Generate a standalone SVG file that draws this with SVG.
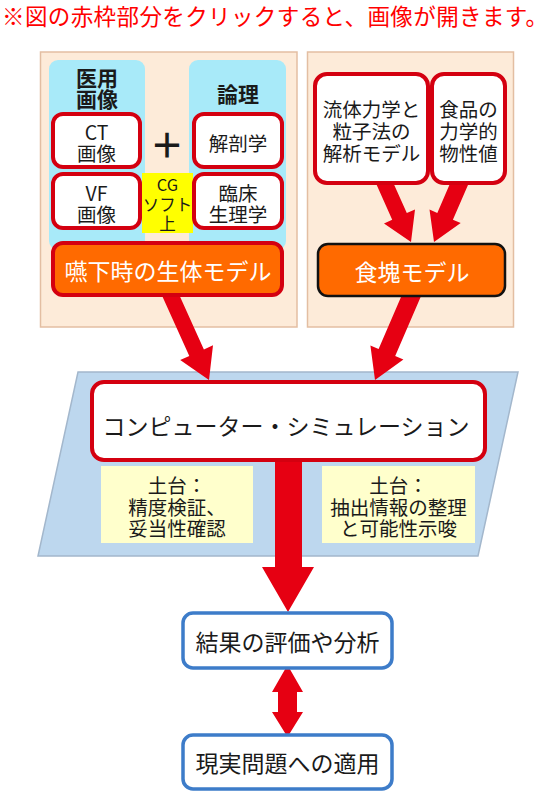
<svg xmlns="http://www.w3.org/2000/svg" width="552" height="792" viewBox="0 0 552 792">
<style>
text{font-family:"Noto Sans CJK JP","Noto Sans",sans-serif;text-anchor:middle;dominant-baseline:central;fill:#1a1a1a}
.panel{fill:#fdebd9;stroke:#e3bea2;stroke-width:1.5}
.cyan{fill:#a8eaf9}
.wbox{fill:#fff;stroke:#d40010;stroke-width:4}
.obox{fill:#ff6a00;stroke:#d40010;stroke-width:4}
.obox2{fill:#ff6a00;stroke:#111;stroke-width:2.5}
.bbox{fill:#fff;stroke:#3d7cc9;stroke-width:3.5}
.ybox{fill:#ffffcc}
.arr{fill:#e60012}
.h{font-weight:bold;font-size:21px}
.t19{font-size:19.5px}
.t23{font-size:23px}
.w{fill:#fff}
</style>
<text x="275" y="15" style="font-size:22.5px;fill:#ff0000" textLength="546">※図の赤枠部分をクリックすると、画像が開きます。</text>
<g id="background">
<rect class="panel" x="40.5" y="52" width="256.5" height="275"/>
<rect class="panel" x="307.5" y="52" width="206" height="275"/>
<rect class="cyan" x="49" y="60" width="96" height="190" rx="9"/>
<rect class="cyan" x="189" y="60" width="97" height="190" rx="9"/>
<polygon points="78,372 518,372 478,556 38,556" fill="#bdd7ee" stroke="#a3b7cc" stroke-width="1.5"/>
</g>
<g id="connectors">
<polygon class="arr" points="373.7,178.3 388.3,171.7 406.8,213.1 415.0,209.4 411,242 384.0,223.4 392.2,219.7"/>
<polygon class="arr" points="470.8,178.4 455.2,171.6 437.3,212.9 429.5,209.6 434,242 460.7,223.0 452.9,219.7"/>
<polygon class="arr" points="158.7,288.3 173.3,281.7 203.9,349.4 213.0,345.3 209,380 180.2,360.1 189.3,356.0"/>
<polygon class="arr" points="424.3,288.6 407.7,281.4 378.6,348.9 370.4,345.4 375,380 403.4,359.6 395.2,356.1"/>
<polygon class="arr" points="275,455 302,455 302,567 314,567 288,612 262,567 275,567"/>
<polygon class="arr" points="287.5,665 303,692 297,692 297,712 303,712 287.5,737 272,712 278,712 278,692 272,692"/>
</g>
<g id="label-iyou"><text class="h" x="97" y="77">医用<tspan x="97" dy="21">画像</tspan></text></g>
<g id="label-ronri"><text class="h" x="238" y="93">論理</text></g>
<g id="ct"><rect class="wbox" x="53" y="114" width="87" height="53" rx="10"/><text class="t19" x="96.5" y="131">CT<tspan x="96.5" dy="21">画像</tspan></text></g>
<g id="vf"><rect class="wbox" x="53" y="174" width="87" height="54" rx="10"/><text class="t19" x="96.5" y="192">VF<tspan x="96.5" dy="21">画像</tspan></text></g>
<g id="plus"><text x="167" y="143" style="font-size:34px;font-weight:bold">＋</text></g>
<g id="cg"><rect x="142" y="173" width="51" height="60" fill="#ffff00"/><text x="167.5" y="184" style="font-size:16.5px">CG<tspan x="167.5" dy="19.5">ソフト</tspan><tspan x="167.5" dy="19.5">上</tspan></text></g>
<g id="kaibou"><rect class="wbox" x="194" y="114" width="88" height="53" rx="10"/><text class="t19" x="238" y="142">解剖学</text></g>
<g id="rinsho"><rect class="wbox" x="194" y="174" width="88" height="54" rx="10"/><text class="t19" x="238" y="192">臨床<tspan x="238" dy="21">生理学</tspan></text></g>
<g id="engemodel"><rect class="obox" x="53" y="243" width="229" height="52" rx="10"/><text class="t23 w" x="168" y="270">嚥下時の生体モデル</text></g>
<g id="ryutai"><rect class="wbox" x="315" y="74" width="113" height="109" rx="12"/><text class="t19" x="371.5" y="108">流体力学と<tspan x="371.5" dy="22">粒子法の</tspan><tspan x="371.5" dy="22">解析モデル</tspan></text></g>
<g id="shokuhin"><rect class="wbox" x="432" y="74" width="73" height="109" rx="12"/><text class="t19" x="468.5" y="108">食品の<tspan x="468.5" dy="22">力学的</tspan><tspan x="468.5" dy="22">物性値</tspan></text></g>
<g id="shokkai"><rect class="obox2" x="318" y="244" width="187" height="52" rx="10"/><text class="t23 w" x="412" y="271">食塊モデル</text></g>
<g id="simulation"><rect class="wbox" x="92" y="382" width="393" height="78" rx="12"/><text class="t23" x="286" y="425">コンピューター・シミュレーション</text></g>
<g id="dodai1"><rect class="ybox" x="101" y="466" width="152" height="77"/><text class="t19" x="177" y="484">土台：<tspan x="177" dy="21.5">精度検証、</tspan><tspan x="177" dy="21.5">妥当性確認</tspan></text></g>
<g id="dodai2"><rect class="ybox" x="322" y="466" width="153" height="77"/><text class="t19" x="398.5" y="484">土台：<tspan x="398.5" dy="21.5">抽出情報の整理</tspan><tspan x="398.5" dy="21.5">と可能性示唆</tspan></text></g>
<g id="kekka"><rect class="bbox" x="183" y="613" width="209" height="55" rx="10"/><text class="t23" x="287.5" y="641">結果の評価や分析</text></g>
<g id="genjitsu"><rect class="bbox" x="183" y="735" width="209" height="54" rx="10"/><text class="t23" x="287.5" y="762">現実問題への適用</text></g>
</svg>
